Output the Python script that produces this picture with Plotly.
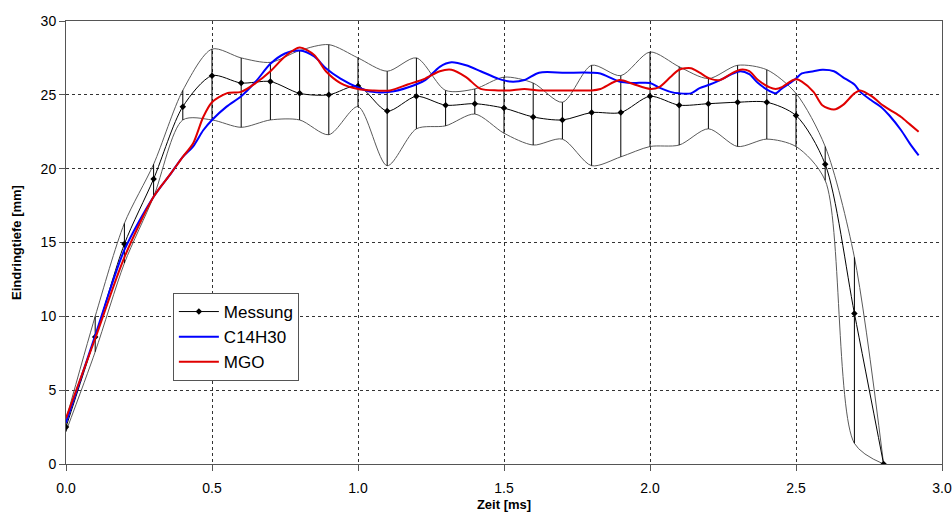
import plotly.graph_objects as go

# Messung (measurement) - mean, upper and lower envelopes
t_mess = [0.0, 0.1, 0.2, 0.3, 0.4, 0.5, 0.6, 0.7, 0.8, 0.9, 1.0, 1.1, 1.2, 1.3, 1.4,
          1.5, 1.6, 1.7, 1.8, 1.9, 2.0, 2.1, 2.2, 2.3, 2.4, 2.5, 2.6, 2.7, 2.8]
mess_mean = [2.5, 8.6, 14.9, 19.3, 24.2, 26.3, 25.8, 25.9, 25.1, 25.0, 25.6, 23.9, 24.9, 24.3, 24.4,
             24.1, 23.5, 23.3, 23.8, 23.8, 24.9, 24.3, 24.4, 24.5, 24.5, 23.6, 20.3, 10.2, 0.0]
mess_upper = [3.0, 10.0, 16.3, 20.3, 25.3, 28.1, 27.5, 27.2, 28.0, 28.4, 27.5, 26.6, 27.5, 25.3, 25.4,
              26.2, 25.8, 24.5, 27.0, 26.3, 27.9, 26.9, 26.1, 27.0, 26.7, 25.1, 21.5, 14.0, 0.0]
mess_lower = [2.2, 7.6, 13.6, 18.1, 23.3, 23.3, 22.8, 23.3, 23.3, 22.3, 24.2, 20.2, 22.7, 22.9, 23.7,
              22.4, 21.6, 22.0, 20.2, 20.8, 21.5, 21.6, 22.7, 21.5, 22.0, 21.5, 19.2, 1.4, 0.0]

# Simulation C14H30 (blue)
t_c14 = [0.0, 0.1, 0.2, 0.3, 0.36, 0.4, 0.435, 0.47, 0.5, 0.55, 0.6, 0.65, 0.7, 0.75, 0.8,
         0.85, 0.89, 0.94, 1.0, 1.05, 1.11, 1.17, 1.23, 1.28, 1.32, 1.37, 1.42, 1.48, 1.52,
         1.57, 1.62, 1.71, 1.80, 1.83, 1.895, 1.94, 2.0, 2.03, 2.07, 2.1, 2.14, 2.17, 2.205,
         2.24, 2.28, 2.31, 2.34, 2.37, 2.41, 2.43, 2.45, 2.48, 2.5, 2.52, 2.56, 2.59, 2.63,
         2.66, 2.70, 2.72, 2.76, 2.79, 2.82, 2.86, 2.89, 2.92]
c14_val = [2.8, 8.7, 14.5, 18.1, 19.7, 20.8, 21.5, 22.6, 23.3, 24.2, 24.9, 25.9, 27.1, 27.8, 28.0,
           27.6, 26.8, 26.1, 25.5, 25.2, 25.2, 25.5, 26.0, 26.9, 27.2, 27.0, 26.6, 26.1, 25.9,
           26.0, 26.5, 26.5, 26.5, 26.45, 25.9, 25.8, 25.8, 25.5, 25.2, 25.1, 25.1, 25.45, 25.7,
           26.0, 26.4, 26.6, 26.4, 25.8, 25.25, 25.1, 25.4, 25.8, 26.1, 26.45, 26.6, 26.7, 26.6,
           26.2, 25.7, 25.2, 24.6, 24.2, 23.6, 22.6, 21.7, 20.9]

# Simulation MGO (red)
t_mgo = t_c14
mgo_val = [3.1, 8.5, 14.0, 18.1, 19.7, 20.8, 21.7, 23.5, 24.5, 25.1, 25.2, 25.8, 26.6, 27.6, 28.2,
           27.7, 26.6, 25.8, 25.4, 25.3, 25.3, 25.7, 26.1, 26.6, 26.7, 26.2, 25.4, 25.3, 25.3,
           25.4, 25.3, 25.3, 25.3, 25.4, 26.0, 25.75, 25.4, 25.5, 26.2, 26.7, 26.8, 26.5, 26.1,
           26.0, 26.45, 26.7, 26.6, 26.0, 25.5, 25.4, 25.5, 25.9, 26.05, 25.9, 25.2, 24.3, 24.0,
           24.3, 25.1, 25.3, 24.9, 24.4, 24.0, 23.5, 23.0, 22.5]

x_ticks = [0.0, 0.5, 1.0, 1.5, 2.0, 2.5, 3.0]
y_ticks = [0, 5, 10, 15, 20, 25, 30]

FONT = "Liberation Sans, Arial, sans-serif"

fig = go.Figure()

env_style = dict(color="#5a5a5a", width=1, shape="spline", smoothing=0.8)
fig.add_trace(go.Scatter(x=t_mess, y=mess_upper, mode="lines", line=env_style,
                         showlegend=False, hoverinfo="skip"))
fig.add_trace(go.Scatter(x=t_mess, y=mess_lower, mode="lines", line=env_style,
                         showlegend=False, hoverinfo="skip"))

err_plus = [u - m for u, m in zip(mess_upper, mess_mean)]
err_minus = [m - l for m, l in zip(mess_mean, mess_lower)]

fig.add_trace(go.Scatter(
    x=t_mess, y=mess_mean, mode="lines+markers", name="Messung",
    line=dict(color="black", width=1, shape="spline", smoothing=0.8),
    marker=dict(symbol="diamond", size=5, color="black"),
    error_y=dict(type="data", array=err_plus, arrayminus=err_minus,
                 symmetric=False, thickness=1, width=0, color="black"),
))
fig.add_trace(go.Scatter(
    x=t_c14, y=c14_val, mode="lines", name="C14H30",
    line=dict(color="#0000ff", width=2, shape="spline", smoothing=0.8),
))
fig.add_trace(go.Scatter(
    x=t_mgo, y=mgo_val, mode="lines", name="MGO",
    line=dict(color="#e00000", width=2, shape="spline", smoothing=0.8),
))

fig.update_layout(
    width=952, height=525,
    margin=dict(l=66, r=10, t=21, b=61),
    paper_bgcolor="white", plot_bgcolor="white",
    font=dict(family=FONT, size=14, color="black"),
    legend=dict(x=0.122, y=0.386, xanchor="left", yanchor="top",
                bgcolor="white", bordercolor="#555555", borderwidth=1,
                font=dict(family=FONT, size=17, color="black"),
                tracegroupgap=0, itemwidth=40),
    xaxis=dict(range=[0, 3.0], tickvals=x_ticks, tickformat=".1f", automargin=False,
               showgrid=True, gridcolor="#333333", griddash="3px,3px", gridwidth=1,
               showline=True, linecolor="#555555", linewidth=1, mirror=True,
               ticks="outside", ticklen=6, tickcolor="#555555", ticklabelstandoff=5,
               zeroline=False, tickfont=dict(size=14),
               title=dict(text="<b>Zeit [ms]</b>", font=dict(family=FONT, size=13), standoff=5)),
    yaxis=dict(range=[0, 30], tickvals=y_ticks, automargin=False,
               showgrid=True, gridcolor="#333333", griddash="3px,3px", gridwidth=1,
               showline=True, linecolor="#555555", linewidth=1, mirror=True,
               ticks="outside", ticklen=6, tickcolor="#555555",
               zeroline=False, tickfont=dict(size=14),
               title=dict(text="<b>Eindringtiefe [mm]</b>", font=dict(family=FONT, size=13), standoff=16)),
)

fig.write_html("out.html", config={"displayModeBar": False},
               post_script="document.body.style.margin='0px';")
